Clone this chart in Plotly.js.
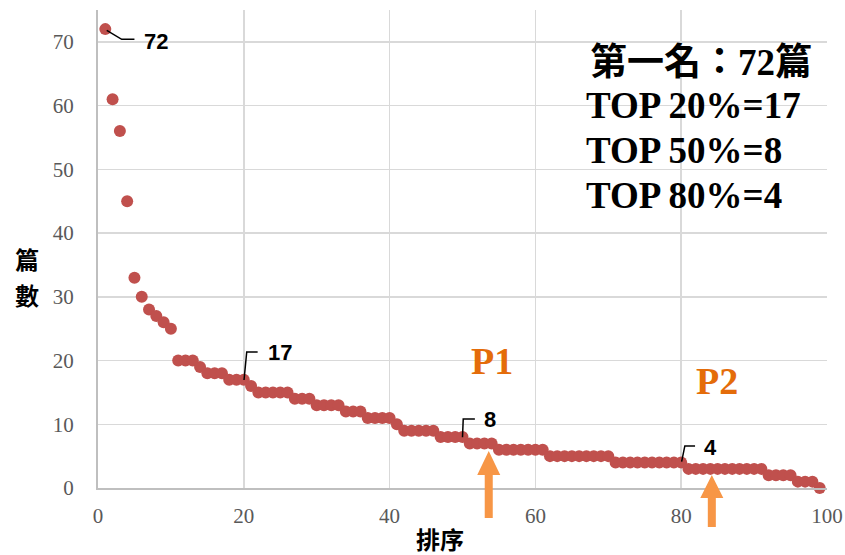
<!DOCTYPE html>
<html>
<head>
<meta charset="utf-8">
<script src="https://cdn.plot.ly/plotly-3.0.1.min.js"></script>
<style>html,body{margin:0;padding:0;background:#fff;}#chart{width:845px;height:555px;}</style>
</head>
<body>
<div id="chart"></div>
<script>
// 篇數 by 排序 (rank 1..99)
const counts = [72,61,56,45,33,30,28,27,26,25,
                20,20,20,19,18,18,18,17,17,17,
                16,15,15,15,15,15,14,14,14,13,
                13,13,13,12,12,12,11,11,11,11,
                10,9,9,9,9,9,8,8,8,8,
                7,7,7,7,6,6,6,6,6,6,
                6,5,5,5,5,5,5,5,5,5,
                4,4,4,4,4,4,4,4,4,4,
                3,3,3,3,3,3,3,3,3,3,
                3,2,2,2,2,1,1,1,0];
const ranks = counts.map((_, i) => i + 1);
const xTicks = [0, 20, 40, 60, 80, 100];
const yTicks = [0, 10, 20, 30, 40, 50, 60, 70];
const xTitle = '排序';
const yTitleChars = ['篇', '數'];

const serif = 'Liberation Serif, Times New Roman, Noto Sans CJK TC, serif';
const cjk = 'Liberation Serif, Noto Sans CJK TC, serif';
const sans = 'Liberation Sans, Arial, sans-serif';
const cjkSans = 'Noto Sans CJK TC, sans-serif';

const trace = {
  x: ranks, y: counts, type: 'scatter', mode: 'markers',
  marker: {color: '#C0504D', size: 12, line: {width: 0}},
  hoverinfo: 'x+y', cliponaxis: false
};

const v = r => counts[r - 1];

const annotations = [
  {x: 7.9, y: 70.1, text: '<b>' + v(1) + '</b>'},
  {x: 25, y: 21.3, text: '<b>' + v(20) + '</b>'},
  {x: 53.8, y: 10.7, text: '<b>' + v(50) + '</b>'},
  {x: 84, y: 6.4, text: '<b>' + v(80) + '</b>'}
].map(a => Object.assign({xref: 'x', yref: 'y', showarrow: false, xanchor: 'center', yanchor: 'middle',
  font: {family: sans, size: 22, color: '#000'}}, a));

// summary text
const summary = [
  '第一名：' + v(1) + '篇',
  'TOP 20%=' + v(20),
  'TOP 50%=' + v(50),
  'TOP 80%=' + v(80)
];
const sumY = [0.891, 0.801, 0.707, 0.611];
summary.forEach((t, i) => annotations.push({
  xref: 'paper', yref: 'paper', x: i === 0 ? 0.672 : 0.667, y: sumY[i], text: '<b>' + t + '</b>', showarrow: false,
  xanchor: 'left', yanchor: 'middle', font: {family: cjk, size: 37, color: '#000'}
}));

// P1 / P2
annotations.push({xref: 'x', yref: 'y', x: 54.0, y: 19.9, text: '<b>P1</b>', showarrow: false,
  font: {family: serif, size: 38, color: '#E46C0A'}});
annotations.push({xref: 'x', yref: 'y', x: 84.9, y: 16.8, text: '<b>P2</b>', showarrow: false,
  font: {family: serif, size: 38, color: '#E46C0A'}});

// y title, stacked characters
[0.481, 0.404].forEach((yy, i) => annotations.push({xref: 'paper', yref: 'paper', x: -0.097, y: yy,
  text: '<b>' + yTitleChars[i] + '</b>', showarrow: false, xanchor: 'center', yanchor: 'middle',
  font: {family: cjkSans, size: 24, color: '#000'}}));

// x title
annotations.push({xref: 'paper', yref: 'paper', x: 0.469, y: -0.105, text: '<b>' + xTitle + '</b>', showarrow: false,
  xanchor: 'center', yanchor: 'middle', font: {family: cjkSans, size: 24, color: '#000'}});

const leader = {type: 'path', xref: 'x', yref: 'y', line: {color: '#000', width: 1.5}, layer: 'above'};
function arrow(xc, yTip, yBase, yBot, hw, sw) {
  return {type: 'path', xref: 'x', yref: 'paper', fillcolor: '#F79646', line: {width: 0}, layer: 'above',
    path: `M ${xc} ${yTip} L ${xc + hw} ${yBase} L ${xc + sw} ${yBase} L ${xc + sw} ${yBot} L ${xc - sw} ${yBot} L ${xc - sw} ${yBase} L ${xc - hw} ${yBase} Z`};
}
const shapes = [
  Object.assign({path: 'M 1.2 71.8 L 3.25 70.4 L 5.0 70.4'}, leader),
  Object.assign({path: 'M 20.03 16.95 L 20.4 21.35 L 21.9 21.35'}, leader),
  Object.assign({path: 'M 50.0 7.96 L 50.1 10.83 L 51.7 10.83'}, leader),
  Object.assign({path: 'M 80.06 4.13 L 80.5 6.6 L 81.9 6.6'}, leader),
  arrow(53.6, 0.0774, 0.0272, -0.0628, 1.58, 0.55),
  arrow(84.2, 0.0272, -0.0209, -0.0816, 1.58, 0.55)
];

const layout = {
  width: 845, height: 555,
  margin: {l: 98, r: 18, t: 10, b: 67},
  paper_bgcolor: '#fff', plot_bgcolor: '#fff',
  showlegend: false,
  xaxis: {
    range: [0, 100], tickvals: xTicks, ticktext: xTicks.map(String),
    showgrid: true, gridcolor: '#D9D9D9', gridwidth: 1.5,
    showline: true, linecolor: '#BFBFBF', linewidth: 2, zeroline: false,
    ticks: '', ticklabelstandoff: 8,
    tickfont: {family: serif, size: 21, color: '#595959'}
  },
  yaxis: {
    range: [0, 75], tickvals: yTicks, ticktext: yTicks.map(String),
    showgrid: true, gridcolor: '#D9D9D9', gridwidth: 1.5,
    showline: true, linecolor: '#BFBFBF', linewidth: 2, zeroline: false,
    ticks: '', ticklabelstandoff: 18,
    tickfont: {family: serif, size: 21, color: '#595959'}
  },
  annotations: annotations,
  shapes: shapes
};

Plotly.newPlot('chart', [trace], layout, {displayModeBar: false, staticPlot: true});
</script>
</body>
</html>
